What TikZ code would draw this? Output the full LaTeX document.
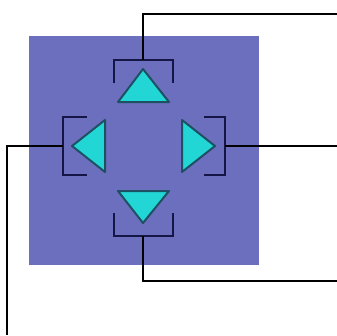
\documentclass[tikz,border=0pt]{standalone}
\usetikzlibrary{calc}
\definecolor{padblue}{RGB}{107,111,189}
\definecolor{keycyan}{RGB}{34,214,214}
\definecolor{keyedge}{RGB}{30,80,100}
\definecolor{bracketc}{RGB}{22,22,70}
\tikzset{
  wire/.style={line width=2.5pt,black},
  bracketline/.style={line width=2.5pt,bracketc},
  keytri/.style={fill=keycyan,draw=keyedge,line width=2pt,line join=round}
}
\begin{document}
\begin{tikzpicture}[x=1pt,y=-1pt]
\useasboundingbox (0,0) rectangle (337,335);
% pad
\node[fill=padblue,minimum width=230pt,minimum height=229pt,inner sep=0pt,anchor=north west] (pad) at (29,36) {};
% triangles
\draw[keytri] (143,69) -- (169,102) -- (118,102) -- cycle;
\draw[keytri] (143,223) -- (169,191) -- (118,191) -- cycle;
\draw[keytri] (72,146) -- (105,120) -- (105,172) -- cycle;
\draw[keytri] (215,146) -- (182,120) -- (182,172) -- cycle;
% bracket anchor points
\coordinate (bt) at (143,60);
\coordinate (bb) at (143,236);
\coordinate (bl) at (63,146);
\coordinate (br) at (225,146);
% brackets
\draw[bracketline] (114,83) -- (114,60) -- (173,60) -- (173,83);
\draw[bracketline] (114,213) -- (114,236) -- (173,236) -- (173,213);
\draw[bracketline] (87,117) -- (63,117) -- (63,175) -- (87,175);
\draw[bracketline] (204,117) -- (225,117) -- (225,175) -- (204,175);
% free ends
\coordinate (et) at (337,14);
\coordinate (eb) at (337,281);
\coordinate (el) at (7,335);
\coordinate (er) at (337,146);
% connectors
\draw[wire] (bt) |- (et);
\draw[wire] (bb) |- (eb);
\draw[wire] (bl) -| (el);
\draw[wire] (br) -- (er);
\end{tikzpicture}
\end{document}
